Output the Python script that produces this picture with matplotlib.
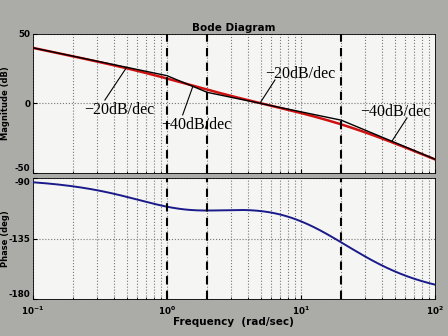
import numpy as np
import matplotlib.pyplot as plt

# G(s) = K (s/2 + 1) / (s (s + 1) (s/20 + 1))
gain = 10.0
zeros = [2.0]
poles = [0.0, 1.0, 20.0]

# straight-line asymptotes: corner frequencies and dB levels
asym_w = [0.1, 1.0, 2.0, 20.0, 100.0]
asym_db = [40.0, 20.0, 8.0, -12.0, -40.0]

# break frequencies marked with dashed lines
breaks = [1.0, 2.0, 20.0]

# slope labels: text, text position (w, dB), line start (w, dB), line end (w, dB)
slope_labels = ["\u221220dB/dec", "\u221240dB/dec", "\u221220dB/dec", "\u221240dB/dec"]
label_pos = [(0.24, -4.7), (0.90, -15.4), (5.38, 21.2), (27.5, -6.1)]
leader_start = [(0.344, 2.5), (1.31, -8.2), (6.4, 16.9), (61.9, -10.4)]
leader_end = [(0.5, 26.0), (1.56, 12.3), (4.94, 0.15), (47.8, -27.1)]

w = np.logspace(-1, 2, 600)
s = 1j * w
G = gain * np.ones_like(s)
for z in zeros:
    G = G * (s / z + 1)
for p in poles:
    G = G / (s if p == 0 else (s / p + 1))
mag = 20 * np.log10(np.abs(G))
phase = np.degrees(np.unwrap(np.angle(G)))

bg = "#abaca8"
face = "#f5f6f3"
fig = plt.figure(figsize=(4.48, 3.36), dpi=100, facecolor=bg)
ax1 = fig.add_axes([0.0737, 0.485, 0.897, 0.414], facecolor=face)
ax2 = fig.add_axes([0.0737, 0.110, 0.897, 0.360], facecolor=face)

ax1.plot(w, mag, color="#d01010", lw=1.8, zorder=3)
ax1.plot(asym_w, asym_db, color="black", lw=1.0, zorder=4)
ax2.plot(w, phase, color="#1a1a8a", lw=1.4, zorder=3)

for ax in (ax1, ax2):
    ax.set_xscale("log")
    ax.set_xlim(0.1, 100)
    for b in breaks:
        ax.axvline(b, color="black", lw=1.5, ls=(0, (4, 3)), zorder=5)
    ax.grid(True, which="major", axis="both", color="#777777", ls=":", lw=0.8)
    ax.grid(True, which="minor", axis="x", color="#777777", ls=":", lw=0.8)
    ax.tick_params(which="both", direction="in", labelsize=6.3, length=3, pad=2)
    ax.tick_params(which="minor", length=1.5)
    for sp in ax.spines.values():
        sp.set_linewidth(0.6)

ax1.set_ylim(-50, 50)
ax1.set_yticks([-50, 0, 50])
ax1.set_yticklabels(["-50", "0", "50"], fontweight="bold")
ax1.get_yticklabels()[0].set_va("bottom")
ax1.tick_params(axis="x", which="both", labelbottom=False)

ax2.set_ylim(-180, -90)
ax2.set_yticks([-180, -135, -90])
ax2.set_yticklabels(["-180", "-135", "-90"], fontweight="bold")
ax2.get_yticklabels()[0].set_va("bottom")
ax2.get_yticklabels()[2].set_va("top")
ax2.tick_params(axis="x", pad=4)
ax2.set_xticks([0.1, 1, 10, 100])
ax2.set_xticklabels([r"$\mathbf{10^{-1}}$", r"$\mathbf{10^{0}}$",
                     r"$\mathbf{10^{1}}$", r"$\mathbf{10^{2}}$"])

for txt, pos, a, b in zip(slope_labels, label_pos, leader_start, leader_end):
    ax1.text(pos[0], pos[1], txt, family="Liberation Serif", fontsize=11.5,
             ha="left", va="center", zorder=6)
    ax1.plot([a[0], b[0]], [a[1], b[1]], color="black", lw=0.8, zorder=6)

fig.text(0.522, 0.918, "Bode Diagram", ha="center", va="center",
         fontsize=7.5, fontweight="bold")
fig.text(0.522, 0.042, "Frequency  (rad/sec)", ha="center", va="center",
         fontsize=7.5, fontweight="bold")
fig.text(0.012, 0.692, "Magnitude (dB)", rotation=90, ha="center", va="center",
         fontsize=6, fontweight="bold")
fig.text(0.012, 0.290, "Phase (deg)", rotation=90, ha="center", va="center",
         fontsize=6, fontweight="bold")

fig.savefig("out.png", dpi=100, facecolor=bg)
